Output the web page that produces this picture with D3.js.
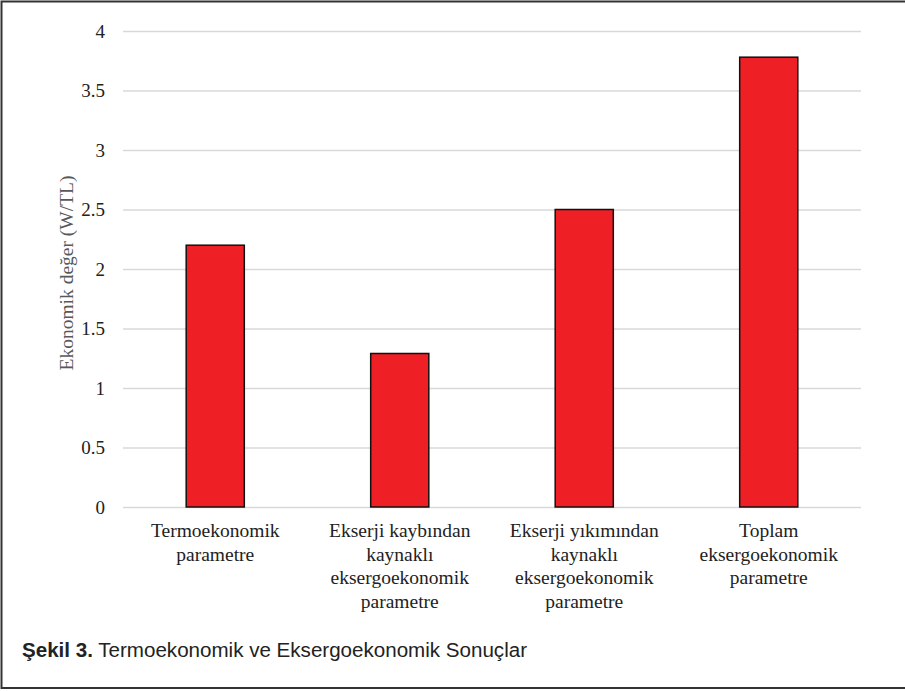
<!DOCTYPE html>
<html><head><meta charset="utf-8">
<script src="https://cdn.jsdelivr.net/npm/d3@7"></script>
<style>body{margin:0;background:#fff}svg{display:block}</style>
</head><body>
<svg id="c" width="905" height="691"></svg>
<script>
const categories = [
  ["Termoekonomik","parametre"],
  ["Ekserji kaybından","kaynaklı","eksergoekonomik","parametre"],
  ["Ekserji yıkımından","kaynaklı","eksergoekonomik","parametre"],
  ["Toplam","eksergoekonomik","parametre"]
];
const values = [2.2, 1.29, 2.5, 3.78];
const yTicks = [0, 0.5, 1, 1.5, 2, 2.5, 3, 3.5, 4];
const yLabel = "Ekonomik değer (W/TL)";
const captionBold = "Şekil 3.";
const captionText = " Termoekonomik ve Eksergoekonomik Sonuçlar";

(function(){
const serif = "'Liberation Serif','Times New Roman',serif";
const svg = d3.select("#c");
svg.append("rect").attr("x",1.5).attr("y",1.5).attr("width",910).attr("height",686.5)
  .attr("fill","none").attr("stroke","#333").attr("stroke-width",2);

const pL=123, pR=861, pT=31, pB=507;
const x = d3.scaleBand().domain(d3.range(categories.length)).range([pL,pR]).paddingInner(0.685).paddingOuter(0.3425);
const y = d3.scaleLinear().domain([0,4]).range([pB,pT]);

const yAxis = d3.axisLeft(y).tickValues(yTicks).tickSize(-(pR-pL)).tickPadding(18).tickFormat(d=>String(d));
const gy = svg.append("g").attr("transform",`translate(${pL},0)`).call(yAxis);
gy.select(".domain").remove();
gy.selectAll(".tick line").attr("stroke","#d9d9d9").attr("stroke-width",1.3);
gy.selectAll(".tick text").attr("font-family",serif).attr("font-size",19).attr("fill","#222");

svg.append("g").selectAll("rect").data(values).join("rect")
  .attr("x",(d,i)=>x(i)).attr("width",x.bandwidth())
  .attr("y",d=>y(d)).attr("height",d=>y(0)-y(d))
  .attr("fill","#ee1f25").attr("stroke","#111").attr("stroke-width",1.5);

const gx = svg.append("g");
categories.forEach((lines,i)=>{
  const t = gx.append("text").attr("text-anchor","middle")
    .attr("font-family",serif).attr("font-size",19.5).attr("fill","#222");
  lines.forEach((l,j)=>{
    t.append("tspan").attr("x",x(i)+x.bandwidth()/2).attr("y",537+j*23.5).text(l);
  });
});

svg.append("text").attr("transform",`translate(73,273) rotate(-90)`)
  .attr("text-anchor","middle").attr("font-family",serif)
  .attr("font-size",19.5).attr("fill","#595959").text(yLabel);

const cap = svg.append("text").attr("transform","translate(22,657) scale(0.98,1)")
  .attr("font-family","'Liberation Sans Narrow','Arial Narrow','Liberation Sans',sans-serif").attr("font-size",21).attr("fill","#222");
cap.append("tspan").attr("font-weight","bold").text(captionBold);
cap.append("tspan").text(captionText);
})();
</script>
</body></html>
